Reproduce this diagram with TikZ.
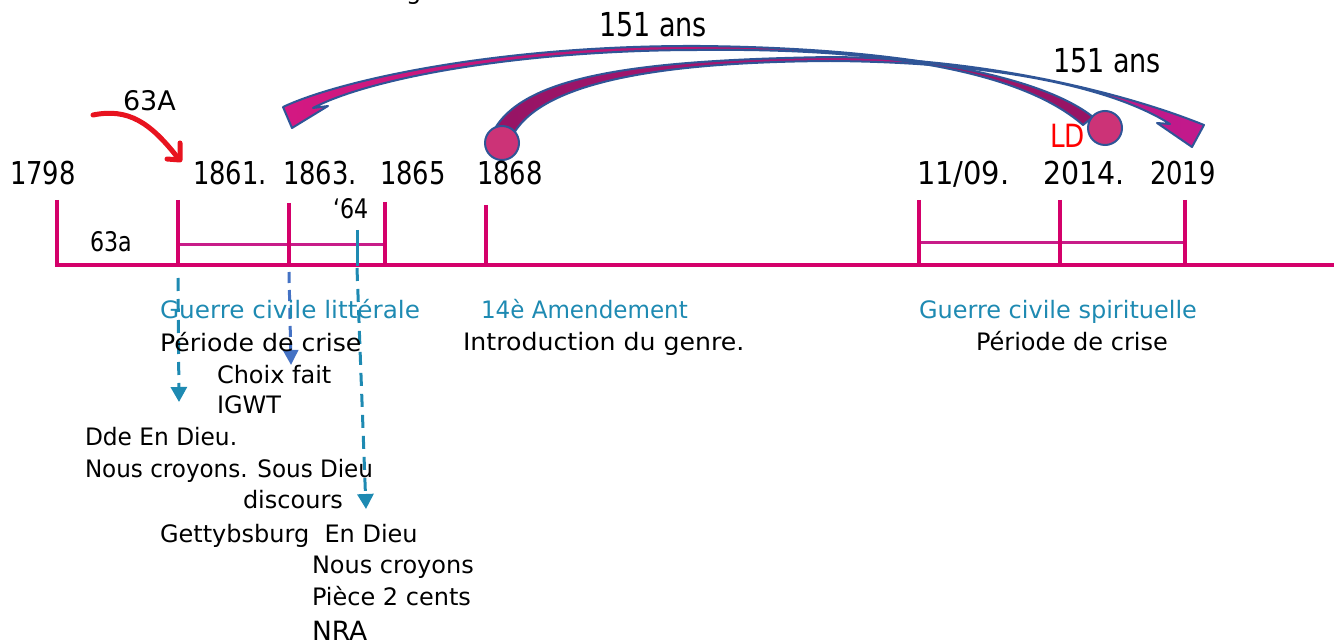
\documentclass[tikz,border=0pt]{standalone}
\usepackage{fontspec}
\setmainfont{DejaVu Sans}
\newfontfamily\nf[FakeStretch=0.82]{DejaVu Sans}
\usetikzlibrary{arrows.meta}
\definecolor{tl}{RGB}{212,0,106}
\definecolor{br}{RGB}{200,28,137}
\definecolor{teal1}{RGB}{30,138,178}
\definecolor{blue1}{RGB}{68,114,196}
\definecolor{outl}{RGB}{47,85,151}
\definecolor{circ}{RGB}{204,51,119}
\definecolor{magA}{RGB}{212,24,130}
\definecolor{magB}{RGB}{150,20,100}
\definecolor{magC}{RGB}{195,25,140}
\definecolor{red1}{RGB}{232,19,31}
\tikzset{
  lbl/.style={anchor=base west, inner sep=0pt, outer sep=0pt},
  yr/.style={lbl, font=\nf\fontsize{31.5}{31.5}\selectfont},
  txt/.style={lbl, font=\fontsize{24}{24}\selectfont},
  hd/.style={lbl, text=teal1, font=\fontsize{24}{24}\selectfont},
  tick/.style={draw=tl, line width=3.3pt},
  axis/.style={draw=tl, line width=4pt},
  brk/.style={draw=br, line width=3pt},
  tdash/.style={draw=teal1, line width=3pt, dash pattern=on 13pt off 8pt, -{Triangle[width=16pt,length=15pt]}},
  bdash/.style={draw=blue1, line width=3pt, dash pattern=on 11pt off 7pt, -{Triangle[width=15pt,length=15pt]}},
  band/.style={draw=outl, line width=2pt, line join=round},
  dot/.style={circle, draw=outl, fill=circ, line width=2pt, minimum size=34pt, inner sep=0pt},
}
\begin{document}
\begin{tikzpicture}[x=1pt,y=-1pt]
\useasboundingbox (0,0) rectangle (1336,644);
\clip (0,0) rectangle (1336,644);

% cut-off letter at the top edge
\node[txt] (gcut) at (406,0) {g};

% timeline coordinates
\coordinate (a0) at (55,265);
\coordinate (a1) at (1334,265);
\coordinate (t1798) at (57,200);   \coordinate (b1798) at (57,265);
\coordinate (t1861) at (178,200);  \coordinate (b1861) at (178,265);
\coordinate (t1863) at (289,203);  \coordinate (b1863) at (289,265);
\coordinate (t1865) at (385,202);  \coordinate (b1865) at (385,265);
\coordinate (t1868) at (486,205);  \coordinate (b1868) at (486,265);
\coordinate (t1109) at (919,200);  \coordinate (b1109) at (919,265);
\coordinate (t2014) at (1060,200); \coordinate (b2014) at (1060,265);
\coordinate (t2019) at (1185,200); \coordinate (b2019) at (1185,265);
\coordinate (k1) at (178,245); \coordinate (k2) at (385,245);
\coordinate (k3) at (919,243); \coordinate (k4) at (1185,243);

\draw[brk] (k1) -- (k2);
\draw[brk] (k3) -- (k4);
\foreach \n in {1798,1861,1863,1865,1868,1109,2014,2019}{\draw[tick] (t\n) -- (b\n);}
\draw[axis] (a0) -- (a1);

% '64 marker and dashed arrows
\coordinate (s64a) at (357,230); \coordinate (s64b) at (357,266);
\coordinate (s64c) at (357,268); \coordinate (e64) at (366,509);
\draw[draw=teal1, line width=3pt] (s64a) -- (s64b);
\draw[tdash] (s64c) -- (e64);
\coordinate (s61) at (178,278); \coordinate (e61) at (179,402);
\draw[tdash] (s61) -- (e61);
\coordinate (s63) at (289,272); \coordinate (e63) at (291,365);
\draw[bdash] (s63) -- (e63);

% red hand-drawn arrow
\coordinate (r0) at (93,115); \coordinate (r1) at (178,158);
\coordinate (rh1) at (180,143); \coordinate (rh2) at (180,160); \coordinate (rh3) at (167,159);
\draw[red1, line width=5pt, line cap=round] (r0) .. controls (128,108) and (150,122) .. (r1);
\draw[red1, line width=5pt, line cap=round, line join=round] (rh1) -- (rh2) -- (rh3);

% curved band 2: 1868 -> 2019
\path[band, left color=magB, right color=magC]
  (494,130) .. controls (525,75) and (640,60) .. (830,57)
  .. controls (990,58) and (1130,95) .. (1204,125)
  -- (1192,147) -- (1157,123) -- (1170,124)
  .. controls (1110,86) and (990,62) .. (830,61)
  .. controls (660,62) and (545,82) .. (514,133) -- cycle;
% curved band 1: 2014 -> 1863
\path[band, left color=magA, right color=magB]
  (1093,117) .. controls (1040,75) and (900,48) .. (700,46)
  .. controls (500,45) and (340,80) .. (283,107)
  -- (292,128) -- (328,106) -- (313,108)
  .. controls (370,78) and (520,50) .. (700,50)
  .. controls (880,48) and (1020,70) .. (1083,125) -- cycle;

\node[dot] (c1868) at (502,143) {};
\node[dot] (c2014) at (1105,128) {};

% labels above
\node[yr] (y1798) at (10,185) {1798};
\node[yr] (y1861) at (193,185) {1861.};
\node[yr] (y1863) at (283,185) {1863.};
\node[yr] (y1865) at (380,185) {1865};
\node[yr] (y1868) at (477,185) {1868};
\node[yr] (y1109) at (917,185) {\scalebox{1.12}[1]{11/09.}};
\node[yr] (y2014) at (1043,185) {\scalebox{1.1}[1]{2014.}};
\node[yr] (y2019) at (1150,185) {2019};
\node[lbl, font=\fontsize{27}{27}\selectfont] (l63A) at (123,111) {63A};
\node[lbl, font=\nf\fontsize{33}{33}\selectfont] (ans1) at (599,37) {151 ans};
\node[lbl, font=\nf\fontsize{33}{33}\selectfont] (ans2) at (1053,73) {151 ans};
\node[lbl, text=red, font=\nf\fontsize{32}{32}\selectfont] (ld) at (1050,148) {LD};
\node[lbl, font=\nf\fontsize{27}{27}\selectfont] (l64) at (333,219) {‘64};
\node[lbl, font=\nf\fontsize{27}{27}\selectfont] (l63a) at (90,252) {63a};

% labels below
\node[hd] (gcl) at (160,319) {\scalebox{1.03}[1]{Guerre civile littérale}};
\node[hd] (am14) at (481,319) {\scalebox{0.96}[1]{14è Amendement}};
\node[hd] (gcs) at (919,319) {Guerre civile spirituelle};
\node[txt] (pc1) at (160,352) {\scalebox{1.05}[1]{Période de crise}};
\node[txt] (intro) at (463,351) {\scalebox{1.05}[1]{Introduction du genre.}};
\node[txt] (pc2) at (976,351) {Période de crise};
\node[txt] (choix) at (217,383) {Choix fait};
\node[txt] (igwt) at (217,413) {IGWT};
\node[txt] (dde) at (85,445) {\scalebox{0.97}[1]{Dde En Dieu.}};
\node[txt] (ncsd) at (85,477) {\scalebox{0.96}[1]{Nous croyons. Sous Dieu}};
\node[txt] (disc) at (243,508) {discours};
\node[txt] (gett) at (160,542) {Gettybsburg\ \ En Dieu};
\node[txt] (nc) at (312,573) {Nous croyons};
\node[txt] (piece) at (312,605) {Pièce 2 cents};
\node[lbl, font=\fontsize{26.5}{26.5}\selectfont] (nra) at (312,640) {NRA};
\end{tikzpicture}
\end{document}
